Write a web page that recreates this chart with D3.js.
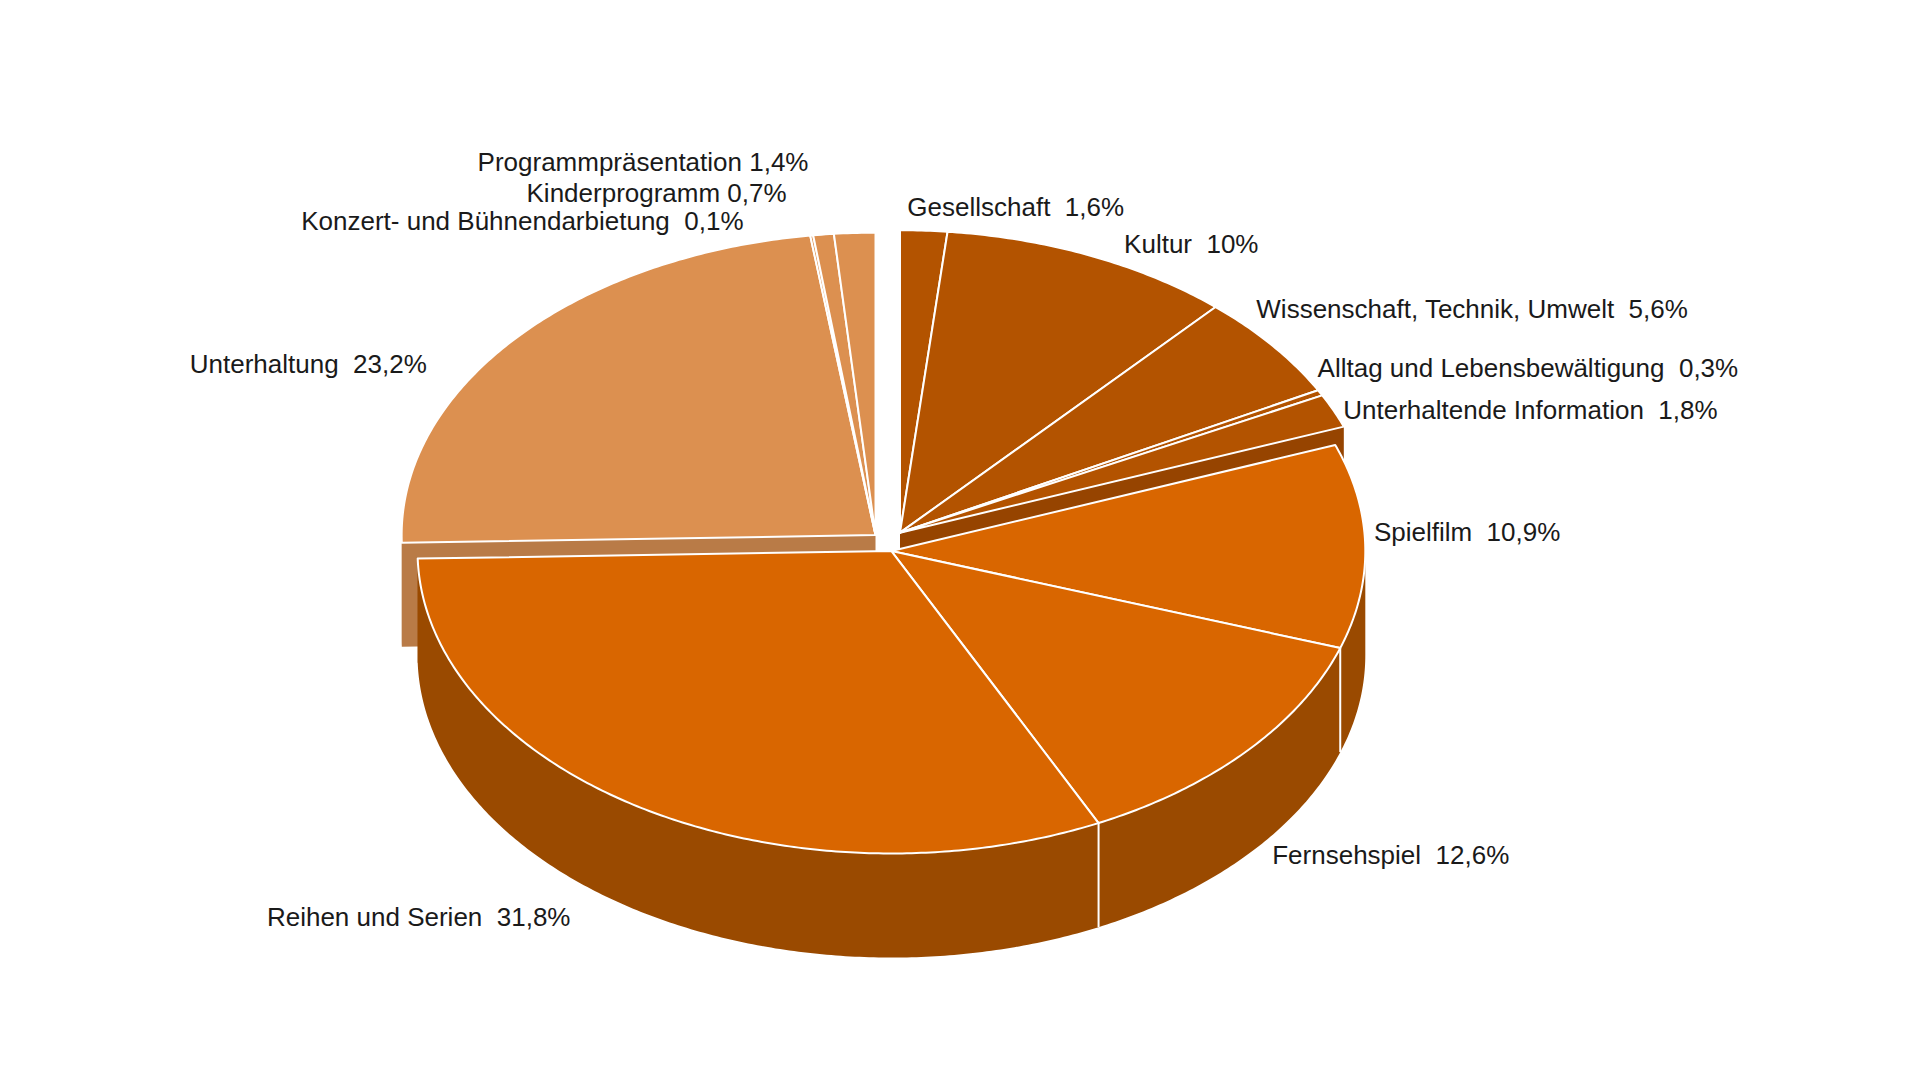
<!DOCTYPE html>
<html><head><meta charset="utf-8">
<script src="https://cdn.jsdelivr.net/npm/d3@7"></script>
<style>body{margin:0;background:#fff}text{font-family:"Liberation Sans",Arial,sans-serif;white-space:pre}</style>
</head><body><svg id="c" width="1920" height="1080"></svg>
<script>
const categories=["Gesellschaft","Kultur","Wissenschaft, Technik, Umwelt","Alltag und Lebensbewältigung","Unterhaltende Information","Spielfilm","Fernsehspiel","Reihen und Serien","Unterhaltung","Konzert- und Bühnendarbietung","Kinderprogramm","Programmpräsentation"];
const values=[1.6,10,5.6,0.3,1.8,10.9,12.6,31.8,23.2,0.1,0.7,1.4];
const groups=["info","info","info","info","info","fiction","fiction","fiction","ent","ent","ent","ent"];
const separators=["  ","  ","  ","  ","  ","  ","  ","  ","  ","  "," "," "];
// layout (reference-image units, scaled by k)
const k=1920/1568;
const labelPos=[[741,176],[918,207],[1026,260],[1076,308],[1097,342],[1122,442],[1039,706],[218,756],[155,305],[246,188],[430,165],[390,140]];
const groupStyle={
 info:{c:[735,435],top:"#b35300",side:"#964400"},
 fiction:{c:[728,450],top:"#d96600",side:"#9a4a00"},
 ent:{c:[715,437],top:"#dc9050",side:"#b97b47"}};
const rx=387*k, ry=247*k, depth=85*k;
const svg=d3.select("#c");
const pie=d3.pie().sort(null).value(d=>d)(values);
const arcs=pie.map((p,i)=>({i,a0:p.startAngle,a1:p.endAngle,g:groups[i]}));
const pt=(c,a,dz=0)=>[c[0]*k+rx*Math.sin(a),c[1]*k-ry*Math.cos(a)+dz];
function topPath(c,a0,a1){const p=d3.path();const cc=[c[0]*k,c[1]*k];p.moveTo(...cc);
 const n=Math.max(2,Math.ceil((a1-a0)/0.01));for(let j=0;j<=n;j++)p.lineTo(...pt(c,a0+(a1-a0)*j/n));p.closePath();return p.toString();}
function sidePath(c,a0,a1){const b0=Math.max(a0,Math.PI/2),b1=Math.min(a1,1.5*Math.PI);if(b1<=b0)return null;
 const p=d3.path();const n=Math.max(2,Math.ceil((b1-b0)/0.01));
 for(let j=0;j<=n;j++){const q=pt(c,b0+(b1-b0)*j/n);j?p.lineTo(...q):p.moveTo(...q);}
 for(let j=n;j>=0;j--)p.lineTo(...pt(c,b0+(b1-b0)*j/n,depth));p.closePath();return p.toString();}
function facePath(c,a){const cc=[c[0]*k,c[1]*k];const e=pt(c,a);return d3.line()([cc,e,[e[0],e[1]+depth],[cc[0],cc[1]+depth]]);}
["ent","info","fiction"].forEach(g=>{
 const st=groupStyle[g];const gs=arcs.filter(d=>d.g===g);
 const a0=d3.min(gs,d=>d.a0),a1=d3.max(gs,d=>d.a1);
 const G=svg.append("g");
 [a0,a1].forEach(a=>G.append("path").attr("d",facePath(st.c,a)).attr("fill",st.side));
 gs.forEach(d=>{const s=sidePath(st.c,d.a0,d.a1);if(s)G.append("path").attr("d",s).attr("fill",st.side);});
 // white seams on the wall
 gs.slice(1).forEach(d=>{if(d.a0>Math.PI/2&&d.a0<1.5*Math.PI){const t=pt(st.c,d.a0);G.append("line").attr("x1",t[0]).attr("y1",t[1]).attr("x2",t[0]).attr("y2",t[1]+depth).attr("stroke","#fff").attr("stroke-width",2);}});
 gs.forEach(d=>G.append("path").attr("d",topPath(st.c,d.a0,d.a1)).attr("fill",st.top).attr("stroke","#fff").attr("stroke-width",2).attr("stroke-linejoin","round"));
});
svg.append("g").selectAll("text").data(categories).join("text")
 .attr("x",(d,i)=>labelPos[i][0]*k).attr("y",(d,i)=>labelPos[i][1]*k)
 .attr("font-size",26).attr("fill","#1a1a1a")
 .text((d,i)=>d+separators[i]+String(values[i]).replace(".",",")+"%");
</script></body></html>
